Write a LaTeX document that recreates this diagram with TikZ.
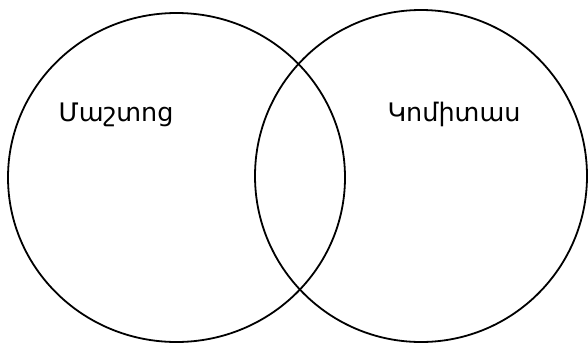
\documentclass[tikz,border=0pt]{standalone}
\usepackage{fontspec}
\setmainfont{DejaVu Sans}
\begin{document}
\begin{tikzpicture}[x=1pt,y=-1pt,
  ring/.style={draw=black,line width=1.8pt},
  lbl/.style={font=\fontsize{25.5}{30}\selectfont,anchor=base,inner sep=0pt}]
\useasboundingbox (0,0) rectangle (588,343);
\draw[ring] (176.5,177.5) ellipse [x radius=168.5,y radius=164.5];
\draw[ring] (421,176) ellipse [x radius=166,y radius=166];
\node[lbl] (a) at (116,121) {Մաշտոց};
\node[lbl] (b) at (454,121) {Կոմիտաս};
\end{tikzpicture}
\end{document}
